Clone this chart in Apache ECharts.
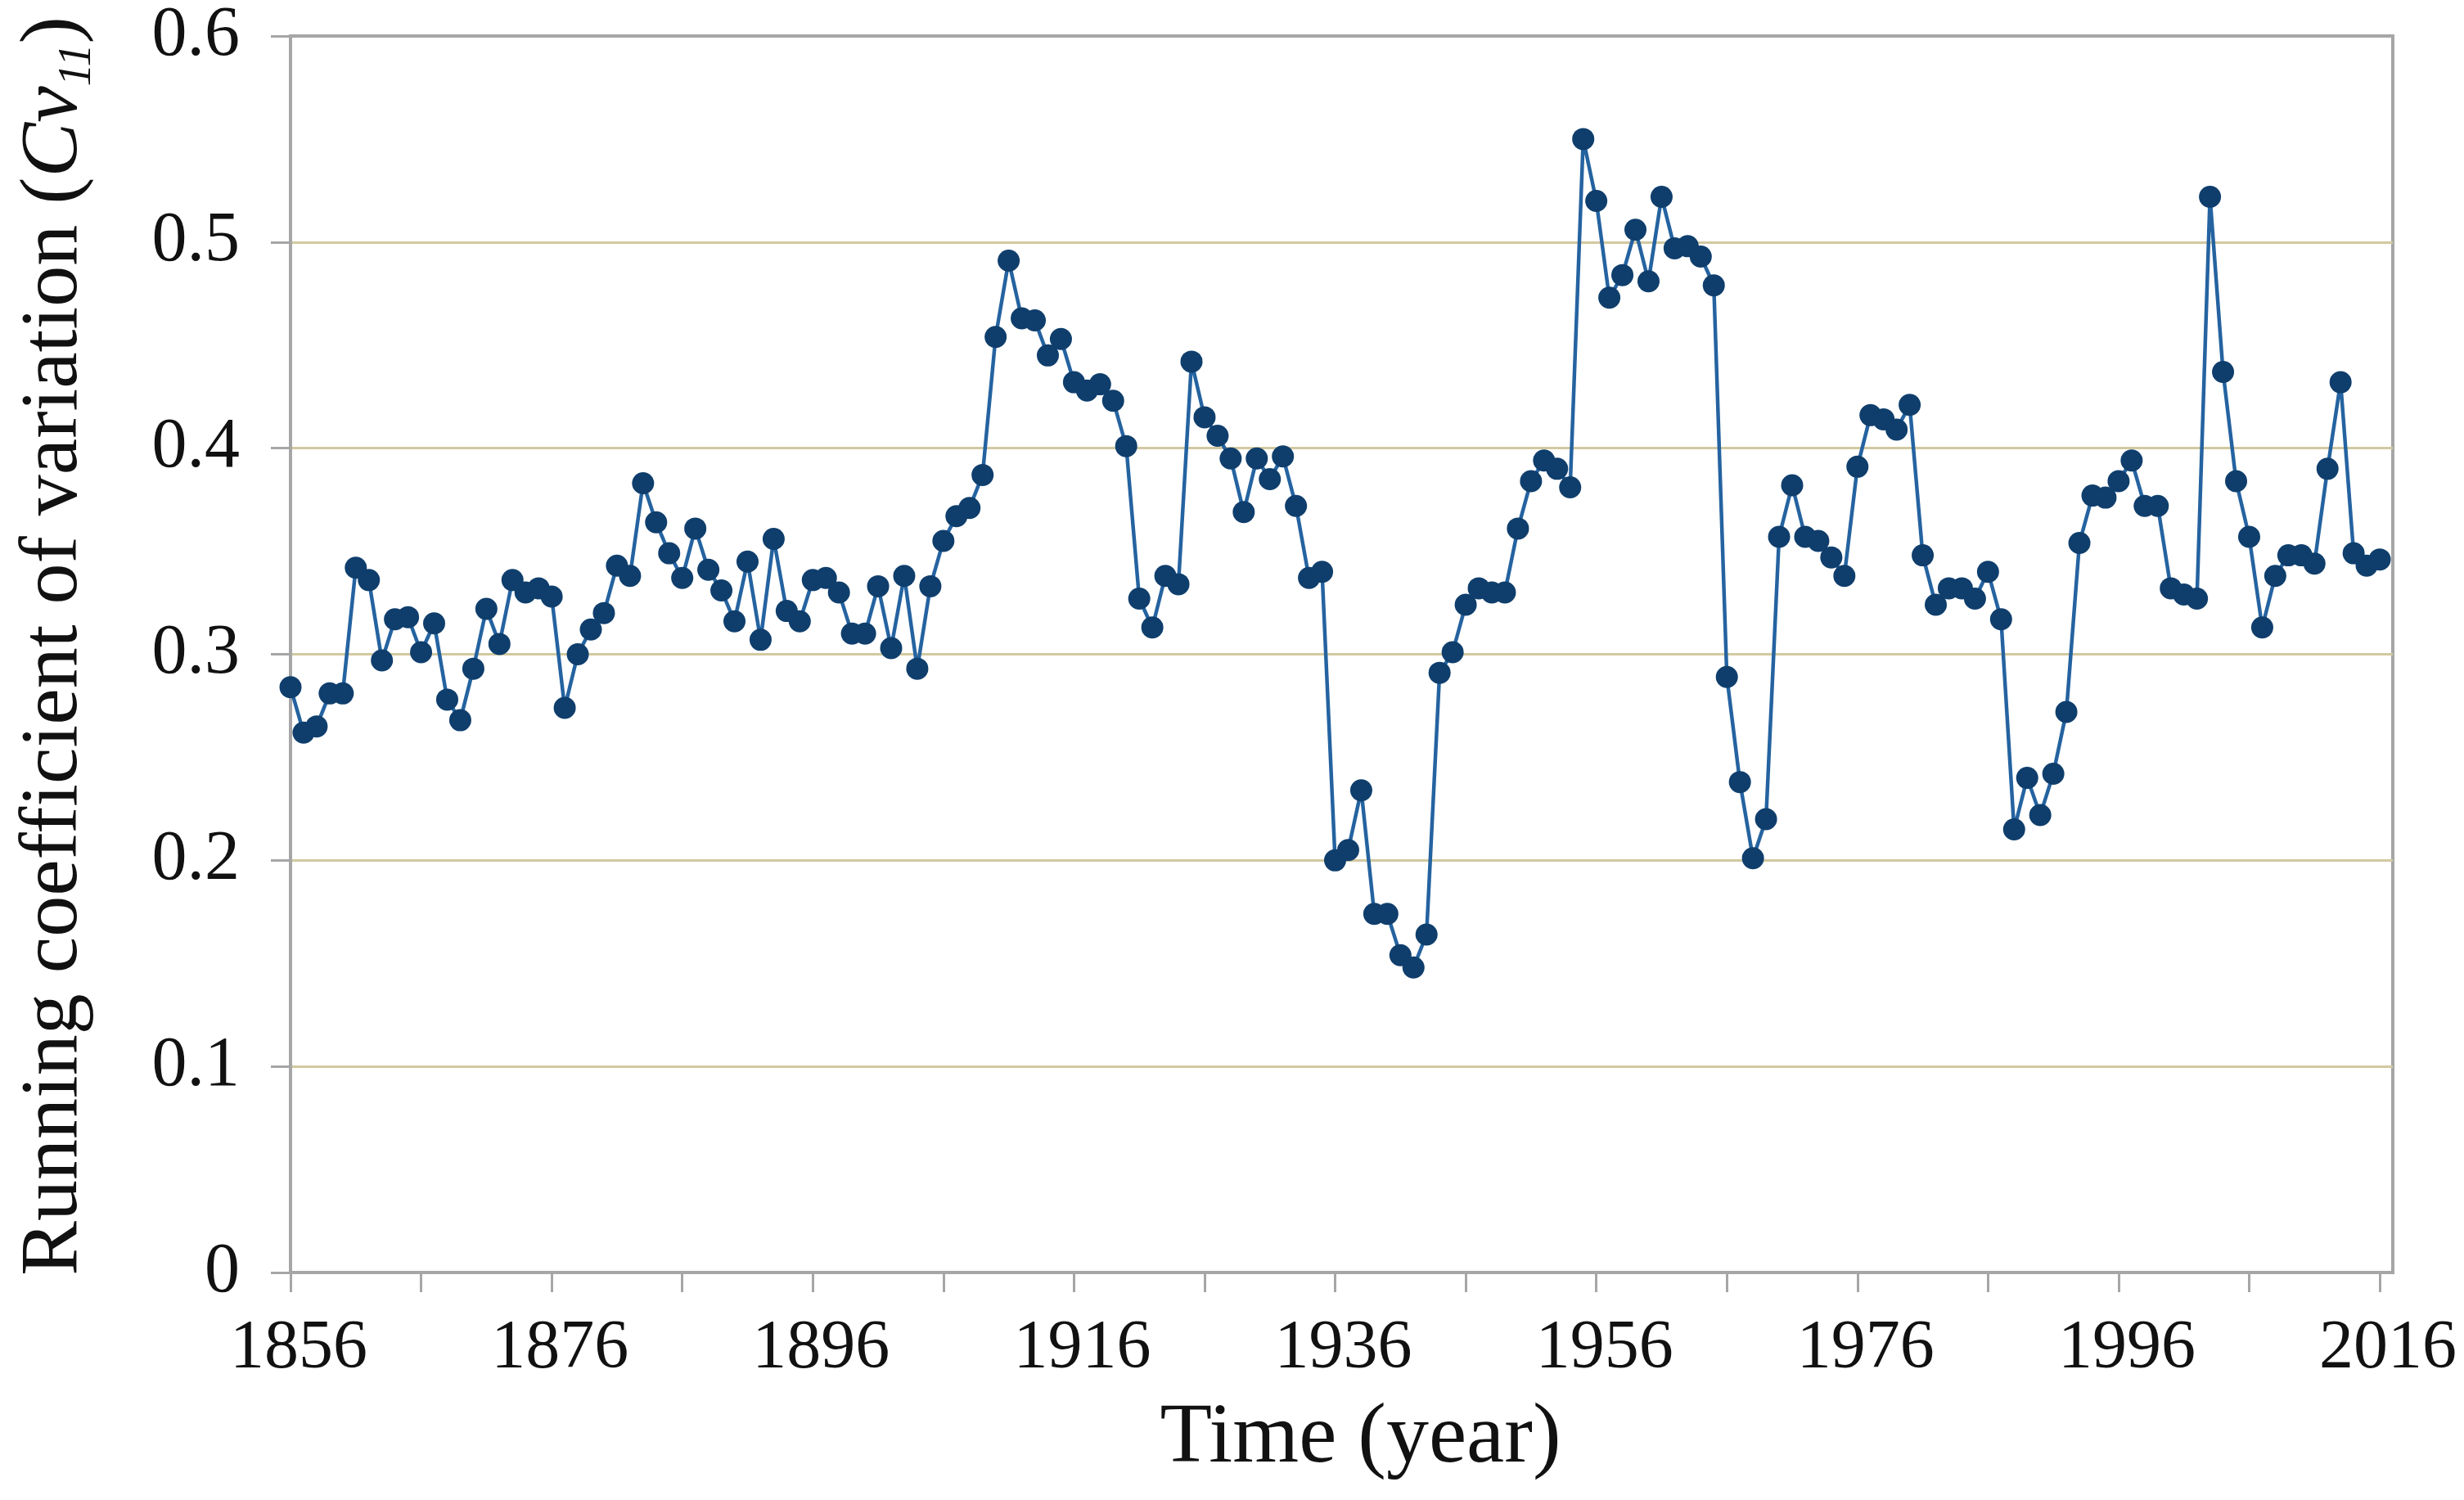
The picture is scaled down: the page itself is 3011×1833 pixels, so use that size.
<!DOCTYPE html>
<html>
<head>
<meta charset="utf-8">
<script src="https://cdn.jsdelivr.net/npm/echarts@6/dist/echarts.min.js"></script>
<style>
html,body{margin:0;padding:0;background:#fff;}
#chart{width:3011px;height:1833px;}
</style>
</head>
<body>
<div id="chart"></div>
<script>
// ---- data ----
const startYear = 1856;
const cvValues = [
  0.284,0.262,0.265,0.281,0.281,0.342,0.336,0.297,0.317,0.318, // 1856-1865
  0.301,0.315,0.278,0.268,0.293,0.322,0.305,0.336,0.330,0.332, // 1866-1875
  0.328,0.274,0.300,0.312,0.320,0.343,0.338,0.383,0.364,0.349, // 1876-1885
  0.337,0.361,0.341,0.331,0.316,0.345,0.307,0.356,0.321,0.316, // 1886-1895
  0.336,0.337,0.330,0.310,0.310,0.333,0.303,0.338,0.293,0.333, // 1896-1905
  0.355,0.367,0.371,0.387,0.454,0.491,0.463,0.462,0.445,0.453, // 1906-1915
  0.432,0.428,0.431,0.423,0.401,0.327,0.313,0.338,0.334,0.442, // 1916-1925
  0.415,0.406,0.395,0.369,0.395,0.385,0.396,0.372,0.337,0.340, // 1926-1935
  0.200,0.205,0.234,0.174,0.174,0.154,0.148,0.164,0.291,0.301, // 1936-1945
  0.324,0.332,0.330,0.330,0.361,0.384,0.394,0.390,0.381,0.550, // 1946-1955
  0.520,0.473,0.484,0.506,0.481,0.522,0.497,0.498,0.493,0.479, // 1956-1965
  0.289,0.238,0.201,0.220,0.357,0.382,0.357,0.355,0.347,0.338, // 1966-1975
  0.391,0.416,0.414,0.409,0.421,0.348,0.324,0.332,0.332,0.327, // 1976-1985
  0.340,0.317,0.215,0.240,0.222,0.242,0.272,0.354,0.377,0.376, // 1986-1995
  0.384,0.394,0.372,0.372,0.332,0.329,0.327,0.522,0.437,0.384, // 1996-2005
  0.357,0.313,0.338,0.348,0.348,0.344,0.390,0.432,0.349,0.343, // 2006-2015
  0.346                                                        // 2016
];
const years = cvValues.map((v, i) => startYear + i);
const xTickValues = [1856,1866,1876,1886,1896,1906,1916,1926,1936,1946,1956,1966,1976,1986,1996,2006,2016];
const xLabelValues = [1856,1876,1896,1916,1936,1956,1976,1996,2016];
const yTicks = [0,0.1,0.2,0.3,0.4,0.5,0.6];

const seriesData = years.map((y, i) => [y, cvValues[i]]);

const FONT = '"Liberation Serif", "Times New Roman", serif';
const AXIS_GREY = '#a6a6a6';

const chart = echarts.init(document.getElementById('chart'), null, {renderer: 'canvas'});
chart.setOption({
  backgroundColor: '#ffffff',
  animation: false,
  grid: {
    left: 355, right: 87, top: 44, bottom: 278,
    show: true, borderColor: AXIS_GREY, borderWidth: 4, backgroundColor: 'transparent'
  },
  xAxis: {
    type: 'value',
    min: 1856, max: 2017,
    name: 'Time (year)',
    nameLocation: 'middle',
    nameGap: 152,
    nameTextStyle: {fontFamily: FONT, fontSize: 104, color: '#111', padding: [0, 0, 0, 46]},
    axisLine: {show: true, onZero: false, lineStyle: {color: AXIS_GREY, width: 4}},
    axisTick: {show: true, length: 24, lineStyle: {color: AXIS_GREY, width: 3}, customValues: xTickValues},
    axisLabel: {
      customValues: xLabelValues,
      fontFamily: FONT, fontSize: 84, color: '#111', margin: 52,
      padding: [0, 0, 0, 20],
      formatter: v => String(v)
    },
    splitLine: {show: false}
  },
  yAxis: {
    type: 'value',
    min: 0, max: 0.6, interval: 0.1,
    name: 'Running coefficient of variation ({i|Cv}{sub|11})',
    nameLocation: 'middle',
    nameGap: 238,
    nameRotate: 90,
    nameTextStyle: {
      fontFamily: FONT, fontSize: 100, color: '#111', padding: [0, 0, 0, 20],
      rich: {
        i: {fontFamily: FONT, fontSize: 100, fontStyle: 'italic', color: '#111'},
        sub: {fontFamily: FONT, fontSize: 56, fontStyle: 'italic', color: '#111', verticalAlign: 'bottom', padding: [0, 0, -6, 0]}
      }
    },
    axisLine: {show: true, lineStyle: {color: AXIS_GREY, width: 4}},
    axisTick: {show: true, length: 24, lineStyle: {color: AXIS_GREY, width: 3}},
    axisLabel: {
      fontFamily: FONT, fontSize: 86, color: '#111', margin: 62,
      padding: [12, 0, 0, 0],
      formatter: v => String(Math.round(v * 10) / 10)
    },
    splitLine: {show: true, showMinLine: false, showMaxLine: false, lineStyle: {color: '#d2c9a0', width: 3}}
  },
  series: [{
    type: 'line',
    data: seriesData,
    symbol: 'circle',
    symbolSize: 27,
    itemStyle: {color: '#0f3e6c'},
    lineStyle: {color: '#2563a0', width: 4.5},
    z: 3
  }]
});
</script>
</body>
</html>
